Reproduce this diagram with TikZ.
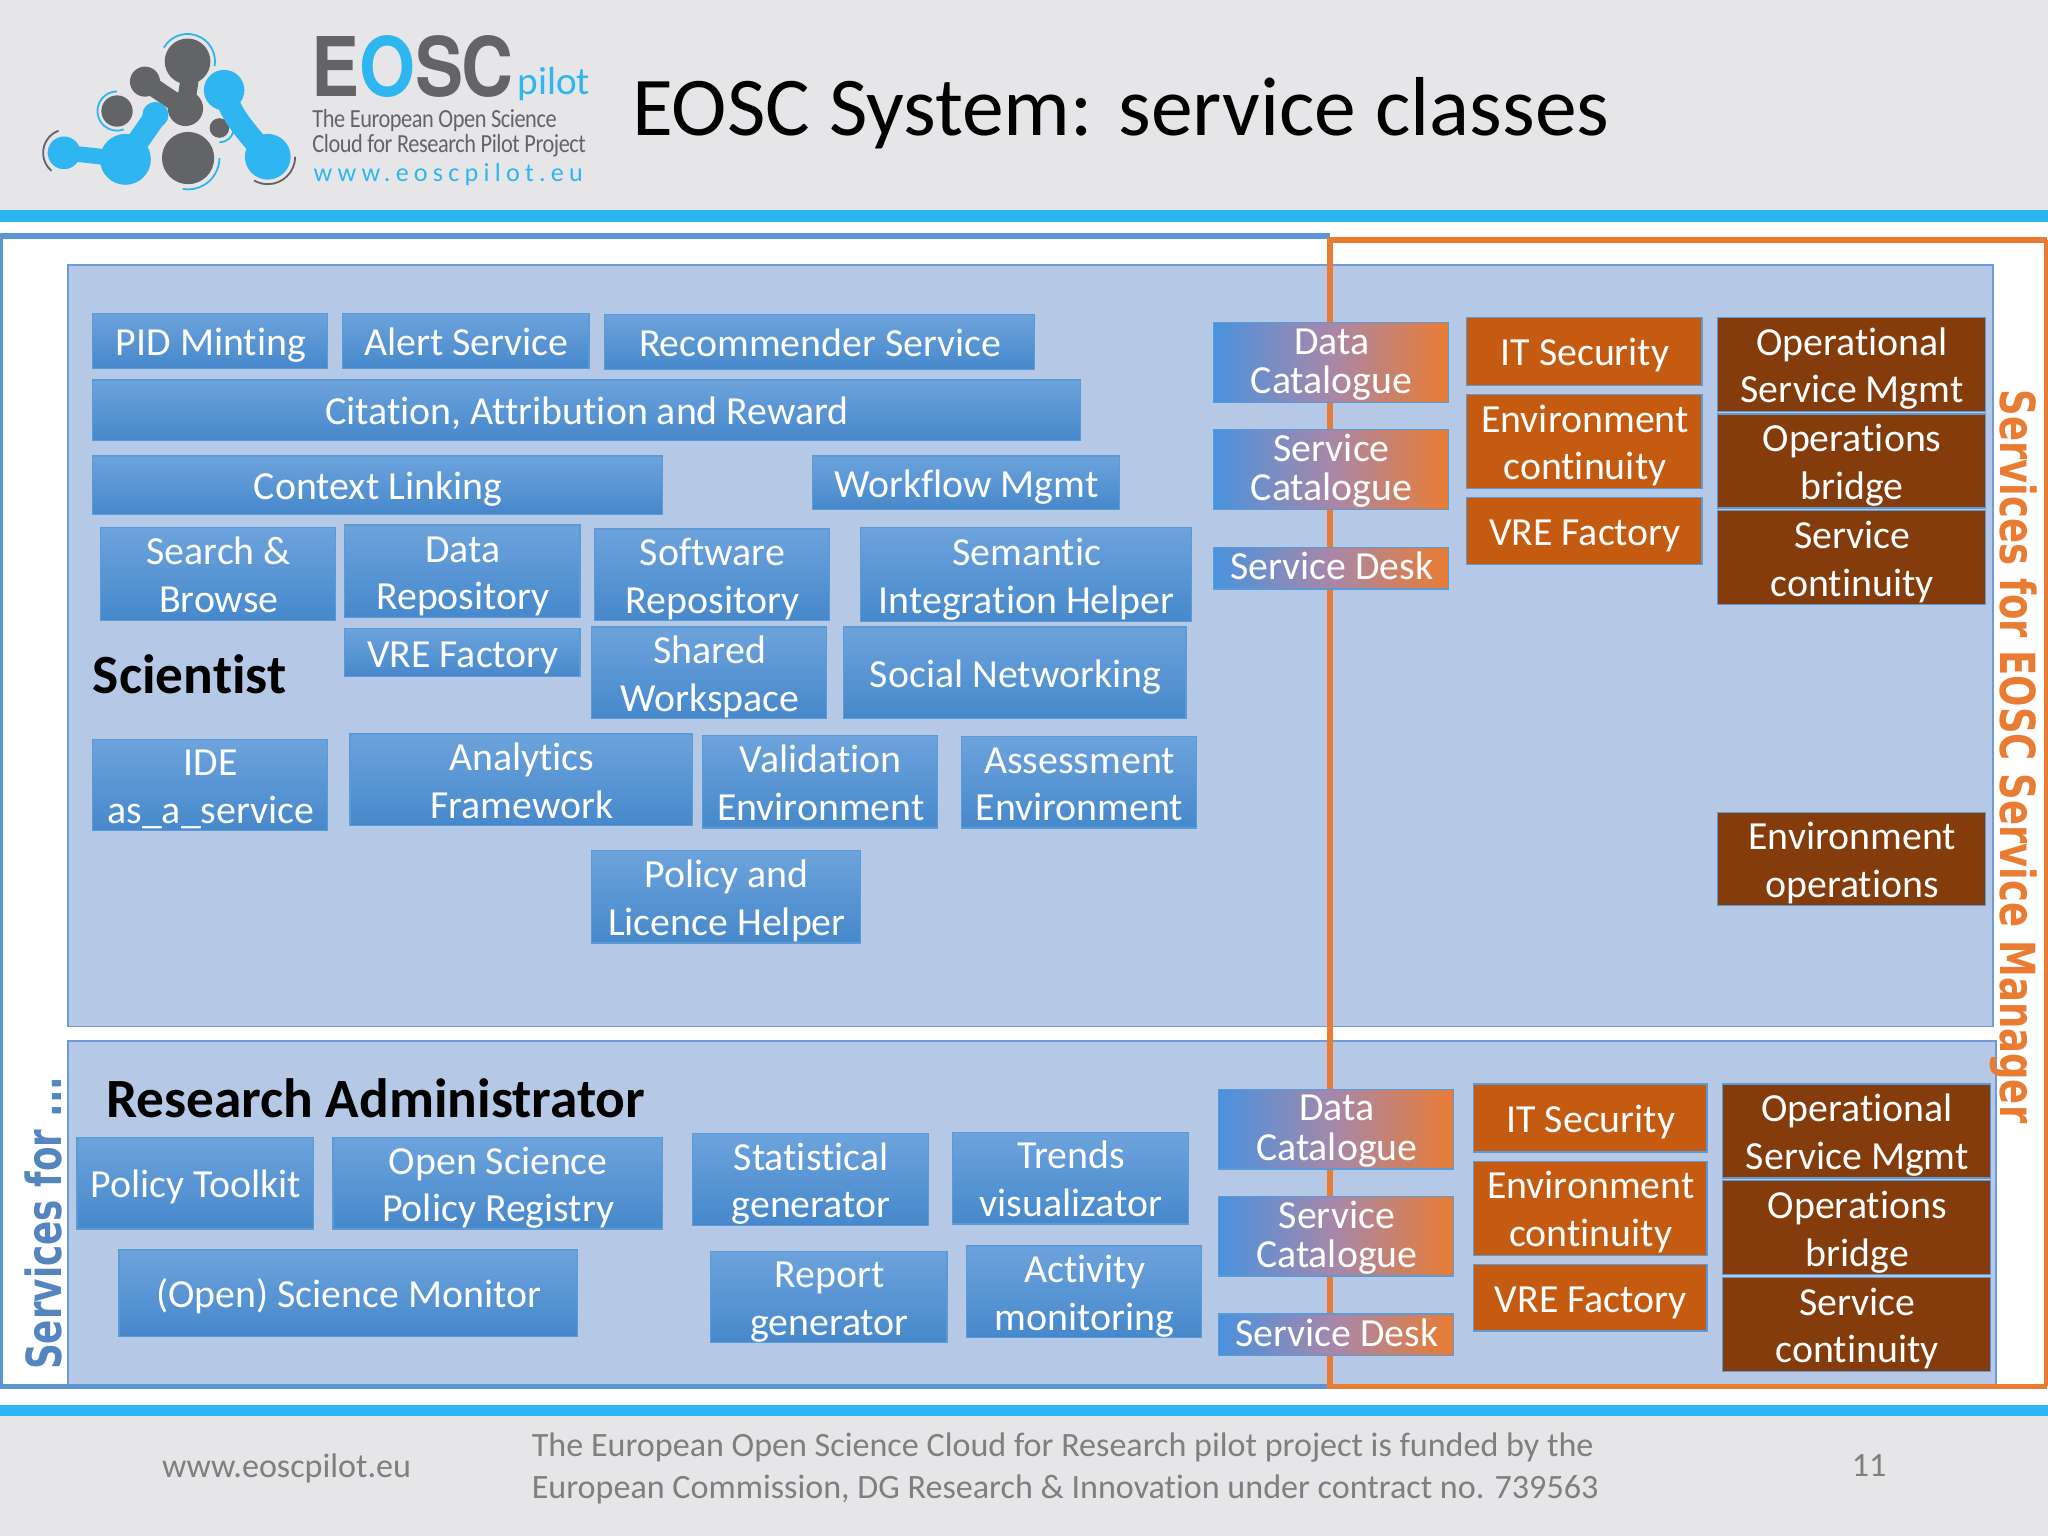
\documentclass[tikz,border=0pt]{standalone}
\usepackage{fontspec}
\usepackage{graphicx}
\setmainfont[Ligatures=NoCommon]{Carlito}
\newfontfamily\vsans{DejaVu Sans}
\newfontfamily\hsans{TeX Gyre Heros}
\definecolor{greyband}{HTML}{E6E6E8}
\definecolor{cyanband}{HTML}{29B6F2}
\definecolor{frameblue}{HTML}{5B96D2}
\definecolor{frameorange}{HTML}{E97C32}
\definecolor{panelfill}{HTML}{B5C9E6}
\definecolor{panelline}{HTML}{6F9BD5}
\definecolor{boxtop}{HTML}{6DA3DC}
\definecolor{boxbot}{HTML}{4688CB}
\definecolor{boxline}{HTML}{5B9BD5}
\definecolor{midorange}{HTML}{C55A11}
\definecolor{darkorange}{HTML}{843C0C}
\definecolor{logogrey}{HTML}{636466}
\definecolor{logocyan}{HTML}{2FB5F0}
\definecolor{footgrey}{HTML}{7F7F7F}
\definecolor{gradleft}{HTML}{4A92DE}
\definecolor{gradmid}{HTML}{A887A8}
\definecolor{vertblue}{HTML}{5585BE}
\def\bxlow{10.1}
\tikzset{
  textlow/.code={\def\bxlow{#1}},
  boxbase/.style={inner sep=0pt,outer sep=0pt,text=white,draw=boxline,line width=1pt,
    font=\fontsize{30.5}{36.5}\selectfont},
  bluebox/.style={boxbase,top color=boxtop,bottom color=boxbot},
  midbox/.style={boxbase,fill=midorange},
  darkbox/.style={boxbase,fill=darkorange},
  gradbox/.style={boxbase,left color=gradleft,right color=frameorange,middle color=gradmid,
    font=\fontsize{30.5}{30}\selectfont,textlow=9},
  panel/.style={fill=panelfill,draw=panelline,line width=1.2pt},
  heavy/.style={font=\fontsize{42.4}{50}\bfseries\selectfont,text=black,inner sep=0pt},
  foot/.style={font=\fontsize{26.1}{32}\selectfont,text=footgrey,inner sep=0pt},
  logotxt/.style={inner sep=0pt,anchor=west,text=logogrey},
  logoarc/.style={line width=1.4pt},
  logolink/.style={line cap=round},
}
\newcommand\bx[7][]{%
  \pgfmathsetmacro\bxw{#5-#3}\pgfmathsetmacro\bxh{#6-#4}%
  \pgfmathsetmacro\bxx{(#5+#3)/2}\pgfmathsetmacro\bxy{(#6+#4)/2}%
  \node[#1,minimum width=\bxw pt,minimum height=\bxh pt] (#2) at (\bxx,\bxy)
    {\kern1pt\raisebox{-\bxlow pt}[0pt][0pt]{\begin{tabular}{@{}c@{}}#7\end{tabular}}};}
\begin{document}
\begin{tikzpicture}[x=1pt,y=-1pt]
\useasboundingbox (0,0) rectangle (1568,1176);
\fill[white] (0,0) rectangle (1568,1176);
\fill[greyband] (0,0) rectangle (1568,161);
\fill[greyband] (0,1084) rectangle (1568,1176);
\fill[cyanband] (0,161) rectangle (1568,170);
\fill[cyanband] (0,1076) rectangle (1568,1084);
% logo
\fill[logogrey] (143.6,47) circle (17.5);
\fill[logogrey] (111,62.5) circle (11.5);
\fill[logogrey] (142,83) circle (13.5);
\draw[logogrey,logolink,line width=14pt] (111,62.5) -- (140,82);
\draw[logogrey,logolink,line width=14pt] (146,55) -- (142,82);
\fill[logogrey] (89.6,85) circle (12);
\fill[logogrey] (168,98) circle (7.5);
\fill[logogrey] (144,121) circle (20);
\fill[logocyan] (171.6,69) circle (15.5);
\fill[logocyan] (205,120) circle (17.5);
\draw[logocyan,logolink,line width=17pt] (171.6,69) .. controls (176,88) and (188,100) .. (205,120);
\fill[logocyan] (49,117) circle (12.5);
\fill[logocyan] (96,122) circle (19.5);
\fill[logocyan] (119,88) circle (10);
\draw[logocyan,logolink,line width=12pt] (51,117) -- (96,122);
\draw[logocyan,logolink,line width=17pt] (96,122) -- (117,92);
\draw[logocyan,logoarc,shift={(143.6,47)}] (-150:21) arc (-150:10:21);
\draw[logocyan,logoarc,shift={(89.6,85)}] (70:15) arc (70:270:15);
\draw[logogrey,logoarc,shift={(51,117)}] (130:18) arc (130:250:18);
\draw[logocyan,logoarc,shift={(144,121)}] (0:24) arc (0:100:24);
\draw[logogrey,logoarc,shift={(205,120)}] (0:21) arc (0:120:21);
\draw[logocyan,logoarc,shift={(168,98)}] (-10:11) arc (-10:90:11);
\node[logotxt] (logoE) at (238,51) {\scalebox{0.875}[1]{\fontsize{63}{63}\hsans\bfseries\addfontfeature{LetterSpace=-2}E\textcolor{logocyan}{O}SC}};
\node[logotxt,text=logocyan] (logoP) at (396,64) {\fontsize{30}{30}\selectfont pilot};
\node[logotxt] (logoA) at (239,92) {\scalebox{0.855}[1]{\fontsize{20}{20}\selectfont\addfontfeature{LetterSpace=-2}The European Open Science}};
\node[logotxt] (logoB) at (239,111.5) {\scalebox{0.855}[1]{\fontsize{20}{20}\selectfont\addfontfeature{LetterSpace=-2}Cloud for Research Pilot Project}};
\node[logotxt,text=logocyan] (logoC) at (240,134) {\fontsize{20}{20}\selectfont\addfontfeature{LetterSpace=20}www.eoscpilot.eu};
% title
\node[inner sep=0pt,anchor=west] (title) at (484,87) {\fontsize{64}{70}\selectfont EOSC System: service classes};
% frames and panels
\draw[frameblue,line width=4.5pt] (1018,181) -- (0,181) -- (0,1061.5) -- (1018,1061.5);
\draw[panel] (52,203) rectangle (1526,786);
\draw[panel] (52,797) rectangle (1528,1060);
\draw[frameblue,line width=4.5pt] (52,1061.5) -- (1018,1061.5);
\draw[frameorange,line width=4.5pt] (1567,184) -- (1018.5,184) -- (1018.5,1061.5) -- (1567,1061.5);
\draw[frameorange,line width=4.5pt] (1567,184) -- (1567,1061.5);
% scientist boxes
\bx[bluebox]{pid}{71}{240}{251}{282}{PID Minting}
\bx[bluebox]{alert}{262}{240}{451}{282}{Alert Service}
\bx[bluebox]{recom}{463}{241}{792}{283}{Recommender Service}
\bx[bluebox]{citation}{71}{291}{827}{337}{Citation, Attribution and Reward}
\bx[bluebox]{context}{71}{349}{507}{394}{Context Linking}
\bx[bluebox]{workflow}{622}{349}{857}{390}{Workflow Mgmt}
\bx[bluebox]{search}{77}{404}{257}{475}{Search \&\\Browse}
\bx[bluebox]{datarepo}{264}{402}{444}{473}{Data\\Repository}
\bx[bluebox]{softrepo}{455}{405}{635}{475}{Software\\Repository}
\bx[bluebox]{semantic}{659}{404}{912}{476}{Semantic\\Integration Helper}
\bx[bluebox]{vrea}{264}{481}{444}{518}{VRE Factory}
\bx[bluebox]{shared}{453}{480}{633}{550}{Shared\\Workspace}
\bx[bluebox]{social}{646}{480}{908}{550}{Social Networking}
\bx[bluebox]{ide}{71}{566}{251}{636}{IDE\\as\_a\_service}
\bx[bluebox]{analytics}{268}{562}{530}{632}{Analytics\\Framework}
\bx[bluebox]{valid}{538}{563}{718}{634}{Validation\\Environment}
\bx[bluebox]{assess}{736}{564}{916}{634}{Assessment\\Environment}
\bx[bluebox]{policy}{453}{651}{659}{722}{Policy and\\Licence Helper}
\node[heavy,anchor=west] (scientist) at (71,516) {Scientist};
% administrator boxes
\node[heavy,anchor=west] (resadmin) at (81,841) {Research Administrator};
\bx[bluebox]{toolkit}{59}{871}{240}{941}{Policy Toolkit}
\bx[bluebox]{registry}{255}{871}{507}{941}{Open Science\\Policy Registry}
\bx[bluebox]{stat}{530}{868}{711}{938}{Statistical\\generator}
\bx[bluebox]{trends}{729}{867}{910}{937}{Trends\\visualizator}
\bx[bluebox]{monitor}{91}{957}{442}{1023}{(Open) Science Monitor}
\bx[bluebox]{report}{544}{958}{725}{1028}{Report\\generator}
\bx[bluebox]{activity}{740}{954}{920}{1024}{Activity\\monitoring}
% shared boxes, upper
\bx[gradbox]{dca}{929}{247}{1109}{308}{Data\\Catalogue}
\bx[gradbox]{sca}{929}{329}{1109}{390}{Service\\Catalogue}
\bx[gradbox]{sda}{929}{419}{1109}{451}{Service Desk}
\bx[midbox]{ita}{1123}{243}{1303}{295}{IT Security}
\bx[midbox]{enva}{1123}{302}{1303}{374}{Environment\\continuity}
\bx[midbox]{vreb}{1123}{381}{1303}{432}{VRE Factory}
\bx[darkbox]{opa}{1315}{243}{1520}{315}{Operational\\Service Mgmt}
\bx[darkbox]{bra}{1315}{317}{1520}{389}{Operations\\bridge}
\bx[darkbox]{cona}{1315}{391}{1520}{463}{Service\\continuity}
\bx[darkbox]{envop}{1315}{622}{1520}{693}{Environment\\operations}
% shared boxes, lower
\bx[gradbox]{dcb}{933}{834}{1113}{895}{Data\\Catalogue}
\bx[gradbox]{scb}{933}{916}{1113}{977}{Service\\Catalogue}
\bx[gradbox]{sdb}{933}{1006}{1113}{1038}{Service Desk}
\bx[midbox]{itb}{1128}{830}{1307}{882}{IT Security}
\bx[midbox]{envb}{1128}{889}{1307}{961}{Environment\\continuity}
\bx[midbox]{vrec}{1128}{968}{1307}{1019}{VRE Factory}
\bx[darkbox]{opb}{1319}{830}{1524}{902}{Operational\\Service Mgmt}
\bx[darkbox]{brb}{1319}{904}{1524}{976}{Operations\\bridge}
\bx[darkbox]{conb}{1319}{978}{1524}{1050}{Service\\continuity}
% vertical labels
\node[inner sep=0pt,anchor=west,rotate=90,text=vertblue] (svcfor) at (33,1049) {\scalebox{0.74}[1]{\fontsize{37}{37}\vsans\bfseries Services for ...}};
\node[inner sep=0pt,anchor=west,rotate=-90,text=frameorange] (svceosc) at (1542,298) {\scalebox{0.765}[1]{\fontsize{37}{37}\vsans\bfseries Services for EOSC Service Manager}};
% footer
\node[foot,anchor=west] (web) at (124,1124) {www.eoscpilot.eu};
\node[foot,anchor=west,align=left] (fund) at (407,1124) {The European Open Science Cloud for Research pilot project is funded by the\\European Commission, DG Research \& Innovation under contract no. 739563};
\node[foot,anchor=center] (page) at (1431,1122) {11};
\end{tikzpicture}
\end{document}
